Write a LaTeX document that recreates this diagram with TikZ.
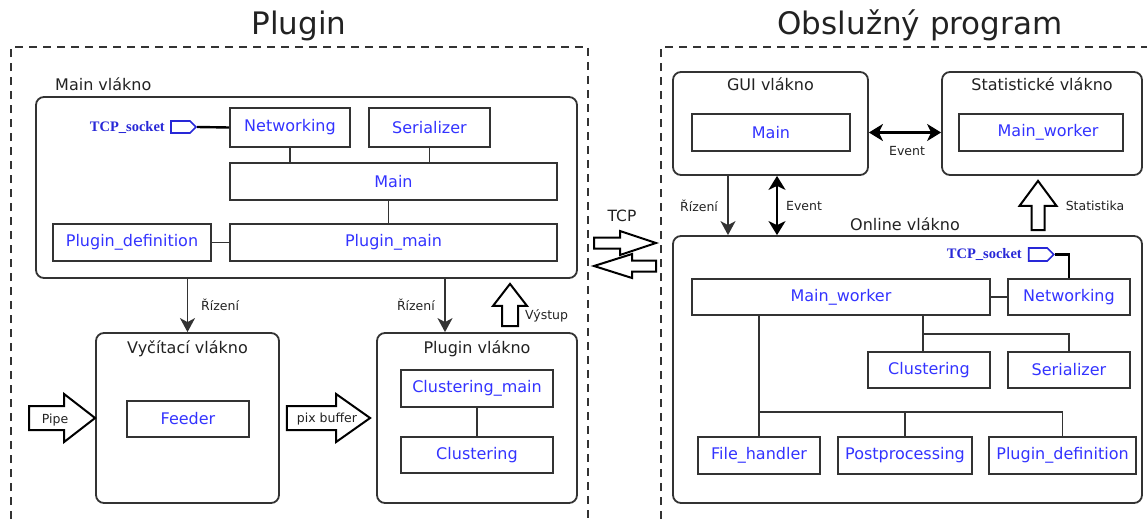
\documentclass[tikz,border=0pt]{standalone}
\usepackage{fontspec}
\setmainfont{DejaVu Sans}
\newfontfamily\sockfont{Liberation Serif}
\usetikzlibrary{calc,arrows.meta,shapes.symbols}

\definecolor{compblue}{RGB}{51,51,255}
\definecolor{sockblue}{RGB}{40,40,215}
\definecolor{edge}{RGB}{51,51,51}
\definecolor{ink}{RGB}{34,34,34}

\newcommand\fs[1]{\fontsize{#1}{#1}\selectfont}
% box node given by its corners: style, name, x1, y1, x2, y2
\newcommand\blk[6]{\node[#1, minimum width={#5pt-#3pt}, minimum height={#6pt-#4pt}] (#2) at ({(#3+#5)/2},{(#4+#6)/2})}
% hollow block arrow: options, tail, tip, shaft half width, head half width, head length
\newcommand\hollowarrow[6][]{%
  \coordinate (hab) at ($(#3)!#6!(#2)$);
  \draw[hollow,#1] ($(#2)!#4!90:(#3)$) -- ($(hab)!#4!90:(#3)$) -- ($(hab)!#5!90:(#3)$) -- (#3)
    -- ($(hab)!#5!-90:(#3)$) -- ($(hab)!#4!-90:(#3)$) -- ($(#2)!#4!-90:(#3)$) -- cycle;}

\begin{document}
\begin{tikzpicture}[x=1pt,y=-1pt,
  comp/.style={draw=edge, line width=1.8pt, text=compblue, font=\fs{16}, inner sep=0pt},
  thread/.style={draw=edge, line width=1.8pt, rounded corners=8pt, inner sep=0pt},
  ttl/.style={text=ink, font=\fs{16}, inner sep=0pt},
  bigttl/.style={text=ink, font=\fs{31}, inner sep=0pt, anchor=base},
  lbl/.style={text=ink, font=\fs{12.5}, inner sep=0pt},
  link/.style={draw=edge, line width=1.6pt},
  wire/.style={draw=black, line width=2.4pt},
  ctrl/.style={draw=edge, line width=1.6pt, -{Stealth[length=14pt,width=15pt,inset=4pt]}},
  evt/.style={draw=black, line width=2.2pt, {Stealth[length=14pt,width=17pt,inset=4pt]}-{Stealth[length=14pt,width=17pt,inset=4pt]}},
  hollow/.style={draw=black, line width=2pt, fill=white, line join=miter},
  zone/.style={draw=edge, line width=1.4pt, dash pattern=on 8pt off 6pt},
  socket/.style={signal, signal to=east, signal from=nowhere, draw=sockblue, line width=1.6pt,
    fill=white, minimum width=25pt, minimum height=12pt, inner sep=0pt},
  socklbl/.style={text=sockblue, font=\sockfont\bfseries\fs{14.5}, inner sep=0pt, anchor=east}]
\useasboundingbox (0,0) rectangle (1147,519);

% ---------------- Plugin ----------------
\node[bigttl] (ttlplugin) at (299,35) {Plugin};
\draw[zone] (11,519) -- (11,47) -- (588,47) -- (588,519);

\node[ttl, anchor=base west] (tmainv) at (55,90.5) {Main vlákno};
\blk{thread}{mainv}{36}{97}{577}{278} {};
\blk{comp}{net1}{230}{108}{350}{147} {Networking};
\blk{comp}{ser1}{369}{108}{490}{147} {Serializer};
\blk{comp}{main1}{230}{163}{557}{200} {Main};
\blk{comp}{pdef1}{53}{224}{211}{261} {Plugin\_definition};
\blk{comp}{pmain1}{230}{224}{557}{261} {Plugin\_main};
\node[socket] (sock1) at (180.5,127) {};
\node[socklbl] (tsock1) at (165,127) {TCP\_socket};

\draw[wire] (sock1.east) -- (net1.west);
\draw[link] (net1.south) -- (net1.south |- main1.north);
\draw[link] (ser1.south) -- (ser1.south |- main1.north);
\draw[link] ($(main1.south)+(-5,0)$) -- ($(pmain1.north)+(-5,0)$);
\draw[link] (pdef1.east) -- (pmain1.west);

\blk{thread}{vyc}{96}{333}{279}{503} {};
\node[ttl, anchor=base] (tvyc) at (187.5,353) {Vyčítací vlákno};
\blk{comp}{feeder}{127}{401}{249}{437} {Feeder};

\blk{thread}{plv}{377}{333}{577}{503} {};
\node[ttl, anchor=base] (tplv) at (477,353) {Plugin vlákno};
\blk{comp}{cmain}{401}{370}{553}{407} {Clustering\_main};
\blk{comp}{clus1}{401}{437}{553}{473} {Clustering};
\draw[link] (cmain.south) -- (clus1.north);

\draw[ctrl] (vyc.north |- mainv.south) -- (vyc.north);
\node[lbl, anchor=west] (lriz1) at (201,305) {Řízení};
\draw[ctrl] ($(mainv.south)+(138.5,0)$) -- ($(plv.north)+(-32,0)$);
\node[lbl, anchor=east] (lriz2) at (435,305) {Řízení};

\hollowarrow{$(plv.north)+(33,-6)$}{$(mainv.south)+(203.5,5)$}{8pt}{17pt}{22pt}
\node[lbl, anchor=west] (lvys) at (525,316) {Výstup};

\coordinate (pipetail) at (29,418);
\hollowarrow{pipetail}{vyc.west}{12pt}{24pt}{31pt}
\node[lbl] (lpipe) at (55,420) {Pipe};
\hollowarrow{$(vyc.east)+(7,0)$}{$(plv.west)+(-6,0)$}{12pt}{24pt}{34pt}
\node[lbl] (lpix) at (327,419) {pix buffer};

% ---------------- TCP link ----------------
\node[text=ink, font=\fs{15.5}, inner sep=0pt] (ltcp) at (622,216) {TCP};
\coordinate (tcpa) at (594,243);
\coordinate (tcpb) at (656,243);
\coordinate (tcpc) at (656,266);
\coordinate (tcpd) at (594,266);
\hollowarrow{tcpa}{tcpb}{5.5pt}{12pt}{36pt}
\hollowarrow{tcpc}{tcpd}{5.5pt}{12pt}{38pt}

% ---------------- Obslužný program ----------------
\node[bigttl] (ttlprog) at (920,35) {Obslužný program};
\draw[zone] (661,519) -- (661,47) -- (1150,47);

\blk{thread}{gui}{673}{72}{868}{175} {};
\node[ttl, anchor=base] (tgui) at (770.5,90) {GUI vlákno};
\blk{comp}{gmain}{692}{114}{850}{151} {Main};

\blk{thread}{stat}{942}{72}{1142}{175} {};
\node[ttl, anchor=base] (tstat) at (1042,90) {Statistické vlákno};
\blk{comp}{smw}{959}{114}{1123}{151} {\hspace*{14pt}Main\_worker};

\draw[evt] (gui.east |- gmain) -- (stat.west |- gmain);
\node[lbl] (levt1) at (907,151) {Event};

\blk{thread}{online}{673}{236}{1142}{503} {};
\node[ttl] (tonline) at (905,224) {Online vlákno};

\draw[ctrl] ($(gui.south)+(-42.5,0)$) -- ($(online.north)+(-179.5,0)$);
\node[lbl] (lriz3) at (699,206) {Řízení};
\draw[evt] ($(gui.south)+(6.5,0)$) -- ($(online.north)+(-130.5,0)$);
\node[lbl] (levt2) at (804,206) {Event};
\hollowarrow{$(online.north)+(130.5,-5)$}{$(stat.south)+(-4,5)$}{6.5pt}{18.5pt}{25pt}
\node[lbl] (lstat) at (1095,206) {Statistika};

\node[socket, minimum height=13pt] (sock2) at (1038,254.5) {};
\node[socklbl] (tsock2) at (1022,254.5) {TCP\_socket};
\blk{comp}{mw}{692}{279}{990}{315} {Main\_worker};
\blk{comp}{net2}{1008}{279}{1130}{315} {Networking};
\blk{comp}{clus2}{868}{352}{990}{388} {Clustering};
\blk{comp}{ser2}{1008}{352}{1130}{388} {Serializer};
\blk{comp}{fh}{698}{437}{820}{474} {File\_handler};
\blk{comp}{pp}{838}{437}{972}{474} {Postprocessing};
\blk{comp}{pd2}{989}{437}{1136}{474} {Plugin\_definition};

\draw[wire] (sock2.east) -| (net2.north);
\draw[link] (mw.east) -- (net2.west);
\coordinate (j1) at ($(mw.south)+(82,18)$);
\draw[link] (mw.south -| j1) -- (j1) -| (ser2.north);
\draw[link] (j1) -- (j1 |- clus2.north);
\coordinate (j2) at ($(fh.north)+(0,-24)$);
\draw[link] (fh.north |- mw.south) -- (fh.north);
\draw[link] (j2) -| (pp.north);
\draw[link] (j2) -| (pd2.north);
\end{tikzpicture}
\end{document}
